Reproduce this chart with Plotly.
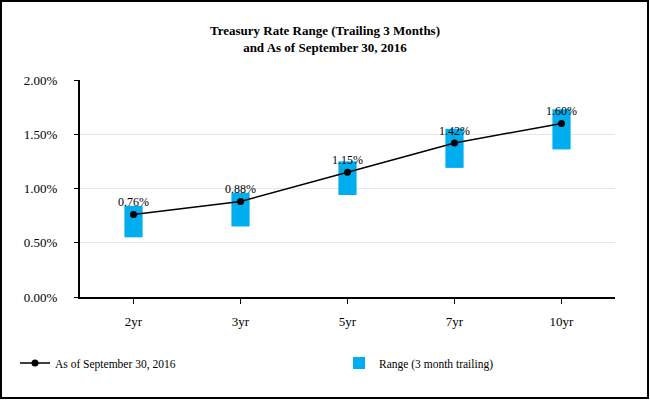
import plotly.graph_objects as go

categories = ["2yr", "3yr", "5yr", "7yr", "10yr"]
range_low = [0.55, 0.65, 0.94, 1.19, 1.36]
range_high = [0.84, 0.96, 1.25, 1.55, 1.73]
current = [0.76, 0.88, 1.15, 1.42, 1.60]
y_ticks = [0, 0.5, 1.0, 1.5, 2.0]
y_tick_labels = ["0.00%", "0.50%", "1.00%", "1.50%", "2.00%"]

FONT = "Liberation Serif, Times New Roman, serif"
BLUE = "#00AEEF"

fig = go.Figure()
fig.add_trace(go.Bar(
    x=categories,
    y=[h - l for h, l in zip(range_high, range_low)],
    base=range_low,
    width=0.17,
    marker=dict(color=BLUE, line=dict(width=0)),
    name="Range (3 month trailing)",
    legend="legend2",
))
fig.add_trace(go.Scatter(
    x=categories,
    y=current,
    mode="lines+markers+text",
    line=dict(color="black", width=1.5),
    marker=dict(color="black", size=7),
    text=[f"{v:.2f}%" for v in current],
    textposition="top center",
    textfont=dict(family=FONT, size=12, color="black"),
    name="As of September 30, 2016",
    legend="legend",
))

L, R, T, B = 80, 35, 80, 103
W, H = 650, 400
pw, ph = W - L - R, H - T - B

def px_x(p):
    return (p - L) / pw

def px_y(p):
    return (H - B - p) / ph

legend_common = dict(
    orientation="h", yanchor="middle", xanchor="left",
    font=dict(family=FONT, size=11.5), bgcolor="rgba(0,0,0,0)",
)

fig.update_layout(
    width=W, height=H,
    margin=dict(l=L, r=R, t=T, b=B, autoexpand=False),
    paper_bgcolor="white", plot_bgcolor="white",
    font=dict(family=FONT, size=13, color="black"),
    title=dict(
        text="<b>Treasury Rate Range (Trailing 3 Months)<br>and As of September 30, 2016</b>",
        x=0.5, xanchor="center", y=1 - 35 / H, yanchor="middle",
        font=dict(family=FONT, size=13, color="black"),
    ),
    xaxis=dict(
        showline=True, linecolor="black", linewidth=2,
        ticks="outside", ticklen=5, tickcolor="black",
        showgrid=False, range=[-0.5, 4.5],
        tickfont=dict(family=FONT, size=13),
        ticklabelstandoff=6,
    ),
    yaxis=dict(
        range=[0, 2.0], tickvals=y_ticks, ticktext=y_tick_labels,
        showline=True, linecolor="black", linewidth=2,
        ticks="outside", ticklen=4, tickcolor="black",
        showgrid=True, gridcolor="#e6e6e6", gridwidth=1,
        zeroline=False, tickfont=dict(family=FONT, size=13),
        ticklabelstandoff=14,
    ),
    showlegend=True,
    legend=dict(x=px_x(15), y=px_y(363), **legend_common),
    legend2=dict(x=px_x(339), y=px_y(363), **legend_common),
    shapes=[dict(
        type="rect", xref="paper", yref="paper",
        x0=px_x(1), x1=px_x(648), y0=px_y(1), y1=px_y(398),
        line=dict(color="black", width=2), fillcolor="rgba(0,0,0,0)",
        layer="below",
    )],
)

fig.write_html(
    "out.html",
    config={"displayModeBar": False},
    post_script="document.body.style.margin='0';",
)
